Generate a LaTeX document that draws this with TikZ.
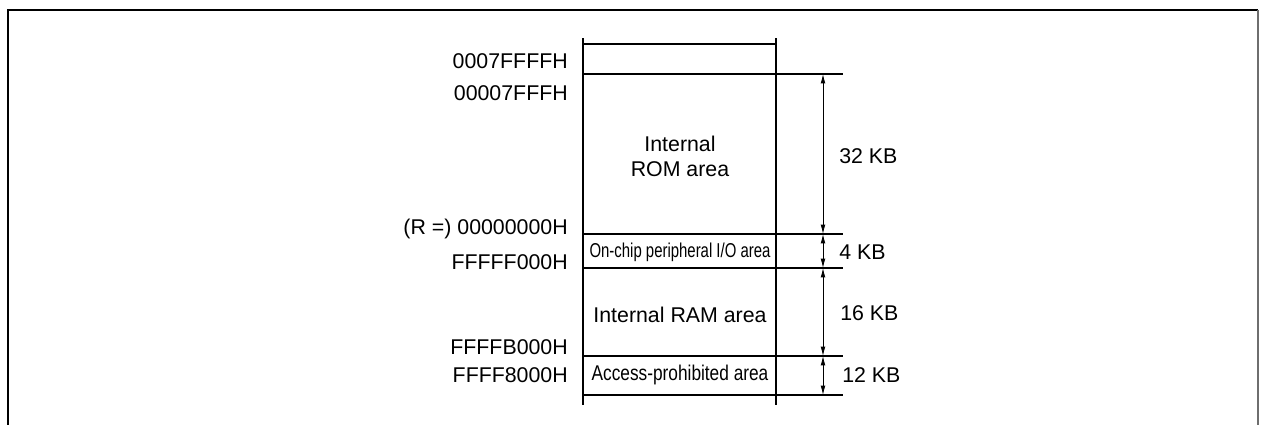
\documentclass[tikz,border=0pt]{standalone}
\usepackage{fontspec}
\setmainfont{Liberation Sans}
\usepackage{graphicx}
\usetikzlibrary{arrows.meta}
\definecolor{MapGuide}{HTML}{6E6E6E}
\newcommand{\mapfont}{\fontsize{16pt}{18.75pt}\selectfont}

\begin{document}
\begin{tikzpicture}[x=0.75pt,y=-0.75pt,
  addr/.style={anchor=base east,inner sep=0pt,font=\mapfont},
  kbyte/.style={anchor=base west,inner sep=0pt,font=\mapfont},
  area/.style={anchor=center,align=center,inner sep=0pt,font=\mapfont},
  dimline/.style={{Latex[length=7pt,width=3.5pt]}-{Latex[length=7pt,width=3.5pt]},line width=0.6pt}]
\path[use as bounding box] (0,0) rectangle (1261,425);
\draw[line width=1.3pt] (8,425) -- (8,10) -- (1258,10);
\draw[MapGuide,line width=0.8pt] (1258,10) -- (1258,425);
\draw[line width=2pt] (583,38) -- (583,405);
\draw[line width=2pt] (776,38) -- (776,405);
\draw[line width=0.8pt] (583,44) -- (776,44);
\foreach \y in {74,234,268,356,395}
  \draw[line width=0.8pt] (583,\y) -- (843,\y);
\coordinate (romtop) at (823,74);
\coordinate (romend) at (823,234);
\coordinate (pioend) at (823,268);
\coordinate (ramend) at (823,356);
\coordinate (prhend) at (823,395);
\draw[dimline] (romtop) -- (romend);
\draw[dimline] (romend) -- (pioend);
\draw[dimline] (pioend) -- (ramend);
\draw[dimline] (ramend) -- (prhend);
\node[addr] (adrA) at (568,68) {0007FFFFH};
\node[addr] (adrB) at (568,100) {00007FFFH};
\node[addr] (adrC) at (568,234) {(R =) 00000000H};
\node[addr] (adrD) at (568,269) {FFFFF000H};
\node[addr] (adrE) at (568,354) {FFFFB000H};
\node[addr] (adrF) at (568,382) {FFFF8000H};
\node[area] (rom) at (680,156) {Internal\\ROM area};
\node[area] (pio) at (680,252) {\scalebox{0.70}[0.94]{On-chip peripheral I/O area}};
\node[area] (ram) at (680,315) {Internal RAM area};
\node[area] (prh) at (680,375) {\scalebox{0.81}[1]{Access-prohibited area}};
\node[kbyte] (kbA) at (839,163) {32 KB};
\node[kbyte] (kbB) at (839,259) {4 KB};
\node[kbyte] (kbC) at (840,320) {16 KB};
\node[kbyte] (kbD) at (842,382) {12 KB};
\end{tikzpicture}
\end{document}
